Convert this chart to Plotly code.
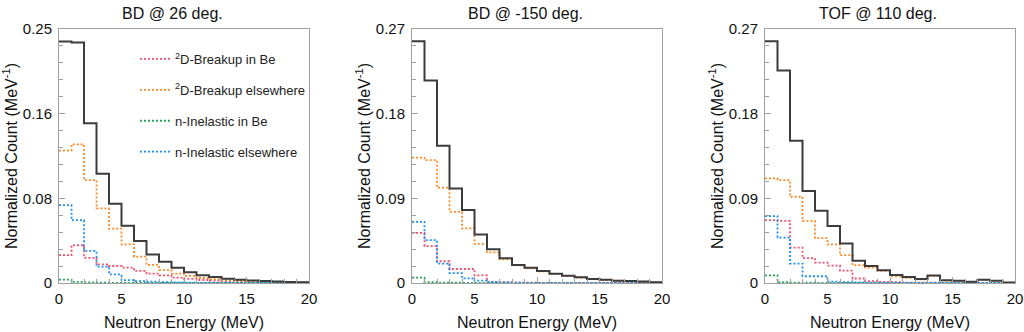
import plotly.graph_objects as go

# ---------------- data ----------------
E_EDGES = list(range(0, 21))  # MeV, 1 MeV bins

PANEL_TITLES = ["BD @ 26 deg.", "BD @ -150 deg.", "TOF @ 110 deg."]
SERIES_NAMES = ["<sup>2</sup>D-Breakup in Be", "<sup>2</sup>D-Breakup elsewhere",
                "n-Inelastic in Be", "n-Inelastic elsewhere"]

# BD @ 26 deg.
bd26_total = [0.233, 0.232, 0.154, 0.1054, 0.0765, 0.0553, 0.0405, 0.0276, 0.0206, 0.0148,
              0.0103, 0.0074, 0.0058, 0.0042, 0.0032, 0.0025, 0.002, 0.0015, 0.001, 0.0008]
bd26_breakup_be = [0.0268, 0.0364, 0.0242, 0.018, 0.0164, 0.0148, 0.0116, 0.009, 0.0074, 0.0051,
                   0.0039, 0.0029, 0.0022, 0.0016, 0.0012, 0.0008, 0.0005, 0.0003, 0.0002, 0.0001]
bd26_breakup_else = [0.1277, 0.1338, 0.0993, 0.0719, 0.0524, 0.0373, 0.0254, 0.0174, 0.0125, 0.009,
                     0.0068, 0.0048, 0.0037, 0.0028, 0.002, 0.0015, 0.0012, 0.001, 0.0007, 0.0005]
bd26_inel_be = [0.0032, 0.001, 0.0005, 0.0003, 0.0002, 0.0001, 0.0001, 0, 0, 0,
                0, 0, 0, 0, 0, 0, 0, 0, 0, 0]
bd26_inel_else = [0.0751, 0.0606, 0.031, 0.0158, 0.0084, 0.0027, 0.0018, 0.0012, 0.0008, 0.0005,
                  0.0003, 0.0002, 0.0001, 0.0001, 0, 0, 0, 0, 0, 0]

# BD @ -150 deg.
bd150_total = [0.2569, 0.2153, 0.146, 0.1005, 0.0775, 0.0516, 0.0358, 0.0262, 0.0191, 0.0163,
               0.0128, 0.0099, 0.0078, 0.006, 0.0043, 0.0035, 0.0025, 0.002, 0.0015, 0.0008]
bd150_breakup_be = [0.0533, 0.0391, 0.0231, 0.0149, 0.0149, 0.008, 0.0012, 0.0008, 0.0005, 0.0003,
                    0.0002, 0.0001, 0, 0, 0, 0, 0, 0, 0, 0]
bd150_breakup_else = [0.1332, 0.1307, 0.1013, 0.0757, 0.058, 0.0415, 0.0326, 0.0252, 0.0188, 0.0156,
                      0.0125, 0.0096, 0.0075, 0.0058, 0.0042, 0.0034, 0.0024, 0.0019, 0.0014, 0.0008]
bd150_inel_be = [0.0057, 0.001, 0.0005, 0.0003, 0.0002, 0.0001, 0, 0, 0, 0,
                 0, 0, 0, 0, 0, 0, 0, 0, 0, 0]
bd150_inel_else = [0.065, 0.0455, 0.0206, 0.0105, 0.005, 0.0025, 0.001, 0.0006, 0.0003, 0.0002,
                   0.0001, 0, 0, 0, 0, 0, 0, 0, 0, 0]

# TOF @ 110 deg.
tof110_total = [0.2569, 0.226, 0.1513, 0.0977, 0.0769, 0.0605, 0.042, 0.0237, 0.0181, 0.0135,
                0.0085, 0.0064, 0.0043, 0.0079, 0.0028, 0.0023, 0.0014, 0.0035, 0.0025, 0.0004]
tof110_breakup_be = [0.0668, 0.066, 0.0377, 0.0264, 0.0217, 0.0185, 0.0131, 0.0048, 0.002, 0.0012,
                     0.0008, 0.0005, 0.0003, 0.0003, 0.0002, 0.0001, 0, 0, 0, 0]
tof110_breakup_else = [0.1112, 0.1094, 0.0917, 0.066, 0.0478, 0.041, 0.0296, 0.0191, 0.0163, 0.0128,
                       0.0072, 0.0055, 0.004, 0.0075, 0.0025, 0.002, 0.0012, 0.0033, 0.0023, 0.0003]
tof110_inel_be = [0.0082, 0.001, 0.0005, 0.0003, 0.0002, 0.0001, 0, 0, 0, 0,
                  0, 0, 0, 0, 0, 0, 0, 0, 0, 0]
tof110_inel_else = [0.0711, 0.0483, 0.0206, 0.0072, 0.0072, 0.0014, 0.001, 0.0006, 0.0004, 0.0002,
                    0.0001, 0, 0, 0, 0, 0, 0, 0, 0, 0]

Y_MAX = [0.245, 0.27, 0.27]
Y_TICKTEXT = [["0", "0.08", "0.16", "0.25"],
              ["0", "0.09", "0.18", "0.27"],
              ["0", "0.09", "0.18", "0.27"]]
X_TICKS = [0, 5, 10, 15, 20]

PANELS = [
    (bd26_breakup_be, bd26_breakup_else, bd26_inel_be, bd26_inel_else, bd26_total),
    (bd150_breakup_be, bd150_breakup_else, bd150_inel_be, bd150_inel_else, bd150_total),
    (tof110_breakup_be, tof110_breakup_else, tof110_inel_be, tof110_inel_else, tof110_total),
]

# ---------------- style ----------------
W, H = 1024, 332
COLORS = ["#f0506c", "#fb8a26", "#23a85c", "#1e8ff0"]
TOTAL_COLOR = "#3c3c3c"
FONT = "Liberation Sans, Arial, Helvetica, sans-serif"
AX_COLOR = "#a0a0a0"
PLOT_LEFT = [59, 412, 765]
PLOT_W = 250
PLOT_TOP, PLOT_BOTTOM = 29, 283

fig = go.Figure()

for p, series in enumerate(PANELS):
    xa = "x" if p == 0 else f"x{p+1}"
    ya = "y" if p == 0 else f"y{p+1}"
    for s in range(4):
        vals = list(series[s])
        fig.add_trace(go.Scatter(
            x=E_EDGES, y=vals + [vals[-1]], mode="lines", line_shape="hv",
            line=dict(color=COLORS[s], width=1.8, dash="2px,2px"),
            name=SERIES_NAMES[s], showlegend=(p == 0), legendgroup=f"g{s}",
            xaxis=xa, yaxis=ya, hoverinfo="skip"))
    tot = list(series[4])
    fig.add_trace(go.Scatter(
        x=E_EDGES, y=tot + [tot[-1]], mode="lines", line_shape="hv",
        line=dict(color=TOTAL_COLOR, width=2), showlegend=False,
        xaxis=xa, yaxis=ya, hoverinfo="skip"))

layout = dict(
    template="none",
    width=W, height=H, margin=dict(l=0, r=0, t=0, b=0, autoexpand=False),
    paper_bgcolor="white", plot_bgcolor="white",
    font=dict(family=FONT, size=15, color="#111111"),
    legend=dict(x=135 / W, y=(H - 44) / H, xanchor="left", yanchor="top",
                bgcolor="rgba(0,0,0,0)", font=dict(size=13, color="#222222"),
                tracegroupgap=11, itemwidth=30),
)

annotations = []
for p in range(3):
    sx = "" if p == 0 else str(p + 1)
    x0 = PLOT_LEFT[p] / W
    x1 = (PLOT_LEFT[p] + PLOT_W) / W
    ymax = Y_MAX[p]
    layout[f"xaxis{sx}"] = dict(
        domain=[x0, x1], range=[0, 20], anchor=f"y{sx}", automargin=False,
        tickvals=X_TICKS, ticks="inside", ticklen=6, tickcolor=AX_COLOR,
        showline=True, linecolor=AX_COLOR, linewidth=1, mirror=True,
        showgrid=False, zeroline=False, tickfont=dict(size=15), ticklabelstandoff=2,
        minor=dict(dtick=1, tick0=0, ticks="inside", ticklen=4, tickcolor=AX_COLOR,
                   showgrid=False),
    )
    layout[f"yaxis{sx}"] = dict(
        domain=[(H - PLOT_BOTTOM) / H, (H - PLOT_TOP) / H], range=[0, ymax],
        anchor=f"x{sx}", automargin=False,
        tickvals=[0, ymax / 3, 2 * ymax / 3, ymax], ticktext=Y_TICKTEXT[p],
        ticks="inside", ticklen=6, tickcolor=AX_COLOR,
        showline=True, linecolor=AX_COLOR, linewidth=1, mirror=True,
        showgrid=False, zeroline=False, tickfont=dict(size=15), ticklabelstandoff=3,
        minor=dict(dtick=ymax / 15, tick0=0, ticks="inside", ticklen=4, tickcolor=AX_COLOR,
                   showgrid=False),
    )
    cx = PLOT_LEFT[p] + PLOT_W / 2
    annotations.append(dict(text=PANEL_TITLES[p], x=(cx - 12) / W, y=(H - 13) / H,
                            xref="paper", yref="paper", showarrow=False,
                            xanchor="center", yanchor="middle",
                            font=dict(size=16, color="#111111")))
    annotations.append(dict(text="Neutron Energy (MeV)", x=cx / W, y=(H - 322) / H,
                            xref="paper", yref="paper", showarrow=False,
                            xanchor="center", yanchor="middle",
                            font=dict(size=16, color="#111111")))
    annotations.append(dict(text="Normalized Count (MeV<sup>-1</sup>)",
                            x=(PLOT_LEFT[p] - 49) / W,
                            y=(H - (PLOT_TOP + PLOT_BOTTOM) / 2) / H,
                            xref="paper", yref="paper", showarrow=False, textangle=-90,
                            xanchor="center", yanchor="middle",
                            font=dict(size=16, color="#111111")))

layout["annotations"] = annotations
fig.update_layout(**layout)
fig.write_html(
    "out.html",
    config={"displayModeBar": False, "staticPlot": True},
    post_script="document.body.style.margin='0';document.body.style.overflow='hidden';",
)
